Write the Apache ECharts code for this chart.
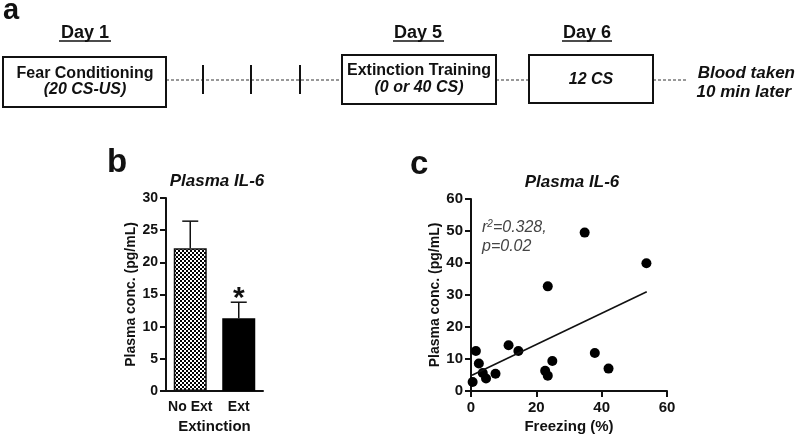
<!DOCTYPE html>
<html><head><meta charset="utf-8">
<script src="https://cdn.jsdelivr.net/npm/echarts@6/dist/echarts.min.js"></script>
<style>html,body{margin:0;padding:0;background:#fff}#c{width:800px;height:439px}</style>
</head><body><div id="c"></div>
<script>
// ---- Data ----
const barCategories = ['No Ext', 'Ext'];
const barMeans = [22.2, 11.3];
const barErrUpper = [26.4, 13.8];
const barSig = ['', '*'];
const barTicks = [0, 5, 10, 15, 20, 25, 30];

const freezing = [0.5, 1.5, 2.4, 3.6, 4.6, 7.5, 11.5, 14.5, 22.7, 23.5, 24.9, 23.5, 34.8, 37.9, 42.1, 53.7];
const plasma   = [2.8, 12.5, 8.6, 5.6, 3.9, 5.4, 14.3, 12.5, 6.3, 4.8, 9.4, 32.7, 49.5, 11.9, 7.0, 39.9];
const fitX = [0.3, 53.8];
const fitY = [4.9, 31.0];
const scatterXTicks = [0, 20, 40, 60];
const scatterYTicks = [0, 10, 20, 30, 40, 50, 60];

const FF = 'Liberation Sans, Arial, Helvetica, sans-serif';

// checker pattern
const pat = document.createElement('canvas');
pat.width = 4; pat.height = 4;
const pctx = pat.getContext('2d');
pctx.fillStyle = '#fff'; pctx.fillRect(0, 0, 4, 4);
pctx.fillStyle = '#000'; pctx.fillRect(0, 0, 2, 2); pctx.fillRect(2, 2, 2, 2);

const chart = echarts.init(document.getElementById('c'), null, {renderer: 'canvas'});

function txt(x, y, text, size, weight, style, align, extra) {
  return Object.assign({type: 'text', x: x, y: y, z: 10, style: {
    text: text, fontSize: size, fontWeight: weight || 'bold', fontStyle: style || 'normal',
    fontFamily: FF, fill: '#111', align: align || 'center', verticalAlign: 'middle'}}, extra || {});
}
function ln(x1, y1, x2, y2, w, dash, color) {
  return {type: 'line', z: 5, shape: {x1: x1, y1: y1, x2: x2, y2: y2},
    style: {stroke: color || '#111', lineWidth: w, lineDash: dash || null}};
}
function box(x, y, w, h) {
  return {type: 'rect', z: 6, shape: {x: x, y: y, width: w, height: h},
    style: {fill: '#fff', stroke: '#111', lineWidth: 2}};
}

const graphics = [
  txt(3, 11, 'a', 29, 'bold', 'normal', 'left'),
  // Day labels
  txt(85, 33, 'Day 1', 18), ln(59, 41, 111, 41, 1.5),
  txt(418, 33, 'Day 5', 18), ln(393, 41, 444, 41, 1.5),
  txt(587, 33, 'Day 6', 18), ln(562, 41, 612, 41, 1.5),
  // dashed timeline
  ln(166, 80, 342, 80, 1, [3, 2], '#333'),
  ln(496, 80, 529, 80, 1, [3, 2], '#333'),
  ln(653, 80, 688, 80, 1, [3, 2], '#333'),
  // ticks
  ln(203, 65, 203, 94, 2), ln(251, 65, 251, 94, 2), ln(300, 65, 300, 94, 2),
  // boxes
  box(3, 57, 163, 50),
  txt(85, 74, 'Fear Conditioning', 16),
  txt(85, 90, '(20 CS-US)', 16, 'bold', 'italic'),
  box(342, 55, 154, 49),
  txt(419, 71, 'Extinction Training', 16),
  txt(419, 88, '(0 or 40 CS)', 16, 'bold', 'italic'),
  box(529, 55, 124, 48),
  txt(591, 80, '12 CS', 16, 'bold', 'italic'),
  txt(795, 73, 'Blood taken', 17, 'bold', 'italic', 'right'),
  txt(791, 92, '10 min later', 17, 'bold', 'italic', 'right'),
  // panel letters & titles
  txt(107, 163, 'b', 33, 'bold', 'normal', 'left'),
  txt(217, 181, 'Plasma IL-6', 17, 'bold', 'italic'),
  txt(410, 165, 'c', 33, 'bold', 'normal', 'left'),
  txt(572, 182, 'Plasma IL-6', 17, 'bold', 'italic'),
  {type: 'text', x: 482, y: 228, z: 10, style: {
    text: '{r|r}{s|2}{r|=0.328,}', fontFamily: FF, verticalAlign: 'middle', align: 'left',
    rich: {r: {fontSize: 16, fontStyle: 'italic', fontFamily: FF, fill: '#444', color: '#444'},
           s: {fontSize: 10, fontStyle: 'italic', fontFamily: FF, fill: '#444', color: '#444', verticalAlign: 'top', padding: [0, 0, 8, 0]}}}},
  txt(482, 247, 'p=0.02', 16, 'normal', 'italic', 'left', {}),
];
graphics[graphics.length - 1].style.fill = '#444';

const axisLbl = (size) => ({fontSize: size, fontWeight: 'bold', fontFamily: FF, color: '#111'});

const option = {
  animation: false,
  backgroundColor: '#fff',
  graphic: graphics,
  grid: [
    {left: 166, top: 198, width: 97, height: 193, outerBoundsMode: 'none'},
    {left: 471, top: 199, width: 196, height: 192, outerBoundsMode: 'none'}
  ],
  xAxis: [
    {gridIndex: 0, type: 'category', data: barCategories,
      axisLine: {lineStyle: {color: '#111', width: 2}},
      axisTick: {alignWithLabel: true, length: 6, lineStyle: {color: '#111', width: 2}},
      axisLabel: Object.assign({margin: 9, interval: 0, hideOverlap: false}, axisLbl(14)),
      name: 'Extinction', nameLocation: 'middle', nameGap: 28,
      nameTextStyle: axisLbl(15)},
    {gridIndex: 1, type: 'value', min: 0, max: 60, interval: 20,
      splitLine: {show: false},
      axisLine: {onZero: false, lineStyle: {color: '#111', width: 2}},
      axisTick: {length: 6, lineStyle: {color: '#111', width: 2}},
      axisLabel: Object.assign({margin: 9}, axisLbl(15)),
      name: 'Freezing (%)', nameLocation: 'middle', nameGap: 28,
      nameTextStyle: axisLbl(15)}
  ],
  yAxis: [
    {gridIndex: 0, type: 'value', min: 0, max: 30, interval: 5,
      splitLine: {show: false},
      axisLine: {show: true, lineStyle: {color: '#111', width: 2}},
      axisTick: {show: true, length: 6, lineStyle: {color: '#111', width: 2}},
      axisLabel: Object.assign({margin: 8}, axisLbl(14)),
      name: 'Plasma conc. (pg/mL)', nameLocation: 'middle', nameGap: 27,
      nameTextStyle: axisLbl(14)},
    {gridIndex: 1, type: 'value', min: 0, max: 60, interval: 10,
      splitLine: {show: false},
      axisLine: {show: true, onZero: false, lineStyle: {color: '#111', width: 2}},
      axisTick: {show: true, length: 6, lineStyle: {color: '#111', width: 2}},
      axisLabel: Object.assign({margin: 8}, axisLbl(15)),
      name: 'Plasma conc. (pg/mL)', nameLocation: 'middle', nameGap: 28,
      nameTextStyle: axisLbl(14)}
  ],
  series: [
    {type: 'bar', xAxisIndex: 0, yAxisIndex: 0, barWidth: 33,
      data: barMeans.map((v, i) => ({value: v, itemStyle: i === 0
        ? {color: {image: pat, repeat: 'repeat'}, borderColor: '#111', borderWidth: 1.5}
        : {color: '#000', borderColor: '#000', borderWidth: 1.5}}))},
    {type: 'custom', xAxisIndex: 0, yAxisIndex: 0, z: 5,
      data: barMeans.map((v, i) => [i, v, barErrUpper[i]]),
      renderItem: function (params, api) {
        const i = api.value(0);
        const base = api.coord([i, api.value(1)]);
        const top = api.coord([i, api.value(2)]);
        const half = 8;
        const children = [
          {type: 'line', shape: {x1: base[0], y1: base[1], x2: top[0], y2: top[1]}, style: {stroke: '#111', lineWidth: 1.5}},
          {type: 'line', shape: {x1: top[0] - half, y1: top[1], x2: top[0] + half, y2: top[1]}, style: {stroke: '#111', lineWidth: 1.5}}
        ];
        if (barSig[i]) {
          children.push({type: 'text', x: top[0], y: top[1] - 3, style: {text: barSig[i], fontSize: 30, fontWeight: 'bold', fontFamily: FF, fill: '#111', align: 'center', verticalAlign: 'middle'}});
        }
        return {type: 'group', children: children};
      }},
    {type: 'scatter', xAxisIndex: 1, yAxisIndex: 1, symbolSize: 10,
      itemStyle: {color: '#000', opacity: 1},
      data: freezing.map((x, i) => [x, plasma[i]])},
    {type: 'line', xAxisIndex: 1, yAxisIndex: 1, symbol: 'none',
      lineStyle: {color: '#111', width: 1.6},
      data: fitX.map((x, i) => [x, fitY[i]])}
  ]
};
chart.setOption(option);
</script></body></html>
